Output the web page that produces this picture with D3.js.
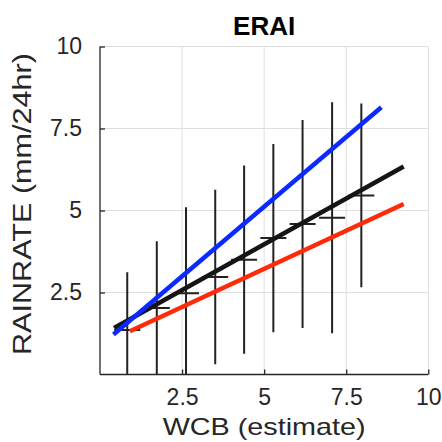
<!DOCTYPE html>
<html>
<head>
<meta charset="utf-8">
<script src="https://cdn.jsdelivr.net/npm/d3@7"></script>
<style>
  body { margin: 0; background: #fff; }
  text { font-family: "Liberation Sans", Arial, sans-serif; fill: #262626; }
</style>
</head>
<body>
<script>
// binned WCB estimate vs rain rate, mean +/- std
const binCenters = [0.83, 1.73, 2.62, 3.51, 4.39, 5.28, 6.17, 7.07, 7.96]
const binMeans = [1.36, 2.03, 2.48, 2.97, 3.50, 4.16, 4.59, 4.78, 5.46]
const binStd = [1.76, 2.03, 2.62, 2.66, 2.87, 2.87, 3.17, 3.52, 2.80]

// fitted lines (end points)
const blueFitX = [0.41, 8.57]
const blueFitY = [1.22, 8.15]
const blackFitX = [0.43, 9.25]
const blackFitY = [1.42, 6.34]
const redFitX = [0.91, 9.25]
const redFitY = [1.32, 5.20]

const xTicks = [2.5, 5, 7.5, 10]
const yTicks = [2.5, 5, 7.5, 10]

const W = 442, H = 442
const mLeft = 100, mRight = 428.3, mTop = 46.5, mBottom = 374.5

const svg = d3.select("body").append("svg").attr("width", W).attr("height", H)

const x = d3.scaleLinear().domain([0, 10]).range([mLeft, mRight])
const y = d3.scaleLinear().domain([0, 10]).range([mBottom, mTop])

svg.append("defs").append("clipPath").attr("id", "clip")
  .append("rect").attr("x", mLeft).attr("y", mTop)
  .attr("width", mRight - mLeft).attr("height", mBottom - mTop)

// grid
const grid = svg.append("g")
grid.selectAll("line.gx").data(xTicks).enter().append("line")
  .attr("x1", d => x(d)).attr("x2", d => x(d))
  .attr("y1", mTop).attr("y2", mBottom)
  .attr("stroke", "#dedede").attr("stroke-width", 1)
grid.selectAll("line.gy").data(yTicks).enter().append("line")
  .attr("x1", mLeft).attr("x2", mRight)
  .attr("y1", d => y(d)).attr("y2", d => y(d))
  .attr("stroke", "#dedede").attr("stroke-width", 1)

const plot = svg.append("g").attr("clip-path", "url(#clip)")

// error bars
plot.selectAll("line.eb").data(binCenters).enter().append("line")
  .attr("x1", d => x(d)).attr("x2", d => x(d))
  .attr("y1", (d, i) => y(binMeans[i] + binStd[i]))
  .attr("y2", (d, i) => y(binMeans[i] - binStd[i]))
  .attr("stroke", "#222").attr("stroke-width", 2)

plot.selectAll("line.mean").data(binCenters).enter().append("line")
  .attr("x1", d => x(d) - 13).attr("x2", d => x(d) + 13)
  .attr("y1", (d, i) => y(binMeans[i]))
  .attr("y2", (d, i) => y(binMeans[i]))
  .attr("stroke", "#222").attr("stroke-width", 2)

const line = d3.line().x(d => x(d[0])).y(d => y(d[1]))
const fits = [
  { xs: blackFitX, ys: blackFitY, color: "#151515" },
  { xs: redFitX, ys: redFitY, color: "#ff2a0a" },
  { xs: blueFitX, ys: blueFitY, color: "#0a2aff" }
]
fits.forEach(f => {
  plot.append("path")
    .attr("d", line(d3.zip(f.xs, f.ys)))
    .attr("fill", "none").attr("stroke", f.color)
    .attr("stroke-width", 4.5)
})

// axes
const xAxis = svg.append("g").attr("transform", `translate(0,${mBottom})`)
  .call(d3.axisBottom(x).tickValues(xTicks).tickSize(-5).tickPadding(14).tickFormat(d3.format("")))
const yAxis = svg.append("g").attr("transform", `translate(${mLeft},0)`)
  .call(d3.axisLeft(y).tickValues(yTicks).tickSize(-5).tickPadding(18).tickFormat(d3.format("")))

;[xAxis, yAxis].forEach(a => {
  a.select(".domain").attr("stroke", "#262626").attr("stroke-width", 1.3)
  a.selectAll(".tick line").attr("stroke", "#262626").attr("stroke-width", 1.3)
  a.selectAll(".tick text").attr("font-size", 23).attr("fill", "#262626")
    .style("font-family", "Liberation Sans, Arial, sans-serif")
})
xAxis.select(".domain").attr("d", `M${mLeft},0H${mRight}`)
yAxis.select(".domain").attr("d", `M0,${mBottom}V${mTop}`)

// labels
svg.append("text").attr("x", x(5)).attr("y", 35)
  .attr("text-anchor", "middle").attr("font-size", 26).attr("font-weight", "bold")
  .style("fill", "#000").text("ERAI")

svg.append("text").attr("x", x(5)).attr("y", 435)
  .attr("text-anchor", "middle").attr("font-size", 24)
  .attr("textLength", 203).attr("lengthAdjust", "spacingAndGlyphs")
  .text("WCB (estimate)")

svg.append("text").attr("transform", `translate(31,204) rotate(-90)`)
  .attr("text-anchor", "middle").attr("font-size", 25)
  .attr("textLength", 302).attr("lengthAdjust", "spacingAndGlyphs")
  .text("RAINRATE (mm/24hr)")
</script>
</body>
</html>
